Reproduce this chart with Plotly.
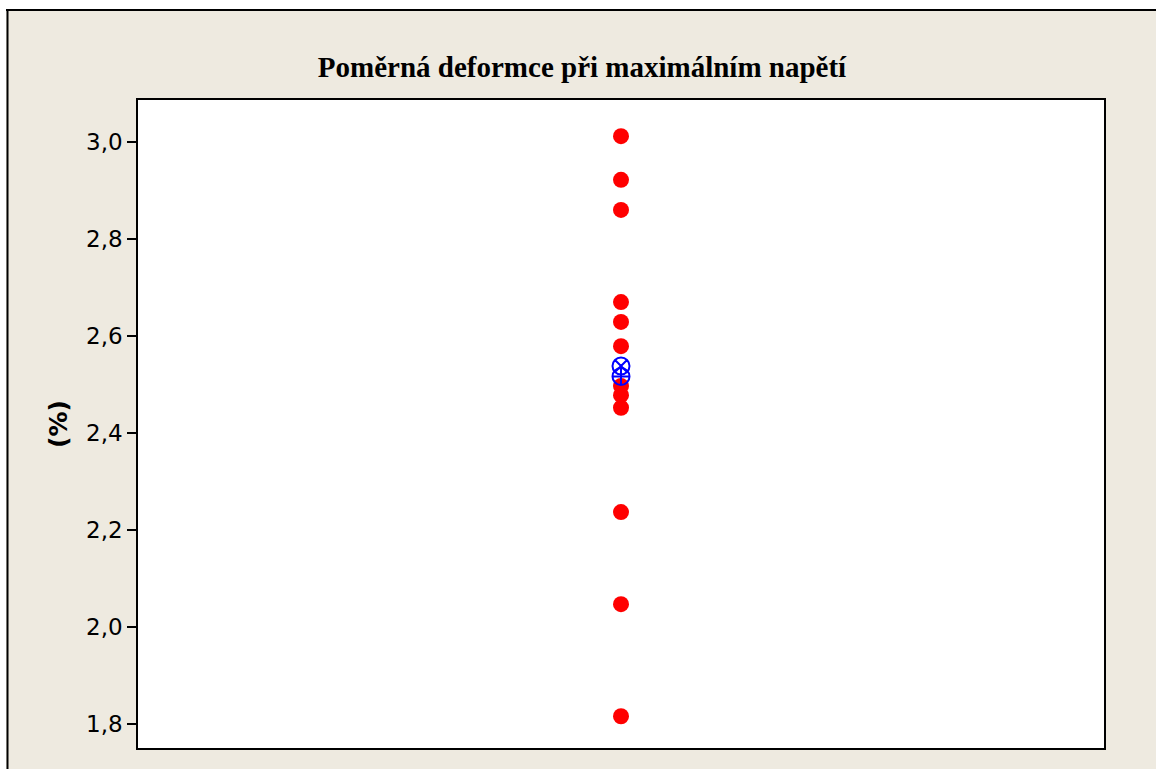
import plotly.graph_objects as go
import numpy as np

# Individual values of relative strain at maximum stress (%)
group = ["A"] * 12
strain = [3.012, 2.922, 2.860, 2.670, 2.629, 2.579, 2.497, 2.478, 2.452, 2.237, 2.047, 1.816]
tick_vals = [1.8, 2.0, 2.2, 2.4, 2.6, 2.8, 3.0]

mean_val = float(np.mean(strain))
median_val = float(np.median(strain))

W, H = 1156, 769
L, R, T, B = 138, 1104, 100, 748  # plot area edges in pixels
PANEL = "#EEEAE0"


def px_x(p):
    return (p - L) / (R - L)


def px_y(p):
    return (B - p) / (B - T)


fig = go.Figure()
fig.add_trace(go.Scatter(
    x=group, y=strain, mode="markers",
    marker=dict(color="#FF0000", size=16, line=dict(width=0)),
    showlegend=False, hoverinfo="y",
))
fig.add_trace(go.Scatter(
    x=["A"], y=[median_val], mode="markers",
    marker=dict(symbol="circle-x-open", color="#0000FF", size=17, line=dict(width=2, color="#0000FF")),
    showlegend=False, hoverinfo="y",
))
fig.add_trace(go.Scatter(
    x=["A"], y=[mean_val], mode="markers",
    marker=dict(symbol="circle-cross-open", color="#0000FF", size=17, line=dict(width=2, color="#0000FF")),
    showlegend=False, hoverinfo="y",
))

shapes = [
    # white margin strips outside the framed panel
    dict(type="rect", xref="paper", yref="paper", x0=px_x(0), x1=px_x(W), y0=px_y(9), y1=px_y(0),
         fillcolor="white", line=dict(width=0), layer="below"),
    dict(type="rect", xref="paper", yref="paper", x0=px_x(0), x1=px_x(6), y0=px_y(H), y1=px_y(0),
         fillcolor="white", line=dict(width=0), layer="below"),
    # panel fill along the open right side
    dict(type="rect", xref="paper", yref="paper", x0=px_x(1130), x1=px_x(W), y0=px_y(H), y1=px_y(11),
         fillcolor=PANEL, line=dict(width=0), layer="above"),
    # frame lines
    dict(type="line", xref="paper", yref="paper", x0=px_x(6), x1=px_x(W), y0=px_y(10), y1=px_y(10),
         line=dict(color="black", width=2), layer="above"),
    dict(type="line", xref="paper", yref="paper", x0=px_x(7.5), x1=px_x(7.5), y0=px_y(9), y1=px_y(H),
         line=dict(color="black", width=2), layer="above"),
]

fig.update_layout(
    width=W, height=H,
    margin=dict(l=L, r=W - R, t=T, b=H - B),
    paper_bgcolor=PANEL,
    plot_bgcolor="white",
    separators=", ",
    shapes=shapes,
    title=dict(
        text="<b>Poměrná deformce při maximálním napětí</b>",
        font=dict(family="Liberation Serif, Times New Roman, serif", size=29, color="black"),
        x=582 / W, xref="container", xanchor="center",
        y=1 - 67 / H, yanchor="middle",
    ),
    xaxis=dict(
        type="category", showticklabels=False, ticks="", showgrid=False, zeroline=False,
        showline=True, linecolor="black", linewidth=1.5, mirror=True,
        fixedrange=True,
    ),
    yaxis=dict(
        range=[1.7505, 3.0866], tickvals=tick_vals, tickformat=".1f",
        ticks="outside", ticklen=9, tickwidth=1.5, tickcolor="black",
        tickfont=dict(family="Tahoma, DejaVu Sans, sans-serif", size=23, color="black"),
        showgrid=False, zeroline=False,
        showline=True, linecolor="black", linewidth=1.5, mirror=True,
        title=dict(text="<b>(%)</b>", font=dict(family="Tahoma, DejaVu Sans, sans-serif", size=25, color="black"),
                   standoff=11),
    ),
)

fig.write_html("out.html")
